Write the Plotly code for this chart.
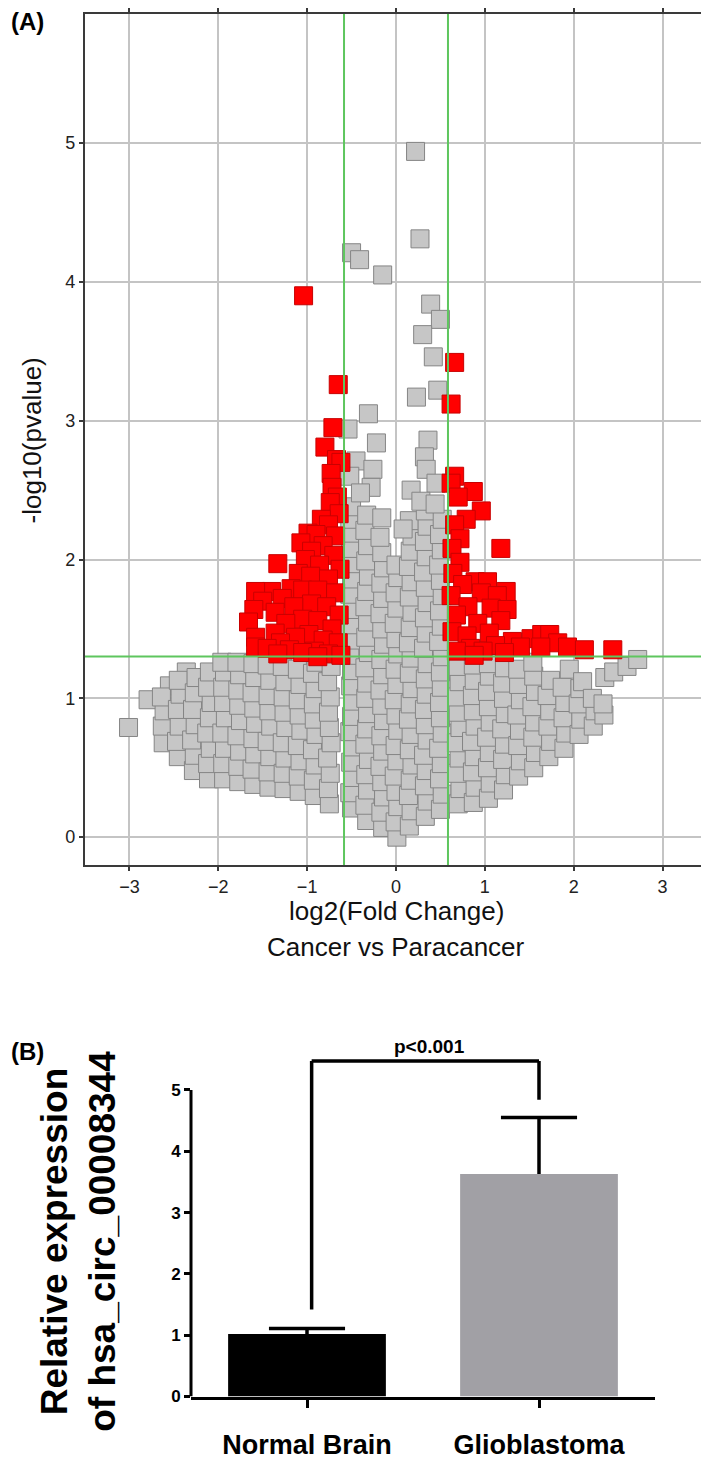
import plotly.graph_objects as go

W, H = 709, 1463
FONT = "Liberation Sans, Arial, sans-serif"

# ---------------- Panel A: volcano plot data (log2FC, -log10 p) ----------------
grey_left = [
    (-3.01, 0.79), (-2.79, 0.99), (-2.36, 1.19), (-2.55, 1.09),
    (-2.62, 0.68), (-2.63, 0.80), (-2.61, 0.91), (-2.64, 1.01),
    (-2.45, 0.58), (-2.47, 0.69), (-2.44, 0.80), (-2.46, 0.92), (-2.43, 1.03), (-2.45, 1.13),
    (-2.28, 0.48), (-2.27, 0.59), (-2.30, 0.70), (-2.26, 0.81), (-2.29, 0.92), (-2.27, 1.04), (-2.25, 1.15),
    (-2.11, 0.42), (-2.12, 0.53), (-2.09, 0.64), (-2.13, 0.75), (-2.10, 0.86), (-2.08, 0.97), (-2.12, 1.08), (-2.10, 1.19),
    (-1.94, 0.42), (-1.95, 0.53), (-1.93, 0.64), (-1.96, 0.75), (-1.92, 0.86), (-1.94, 0.97), (-1.95, 1.08), (-1.93, 1.19), (-1.96, 1.26),
    (-1.77, 0.40), (-1.78, 0.51), (-1.76, 0.62), (-1.79, 0.73), (-1.75, 0.84), (-1.77, 0.95), (-1.78, 1.06), (-1.76, 1.17), (-1.79, 1.26),
    (-1.60, 0.38), (-1.62, 0.49), (-1.59, 0.60), (-1.61, 0.71), (-1.58, 0.82), (-1.60, 0.93), (-1.62, 1.04), (-1.59, 1.15), (-1.61, 1.25),
    (-1.43, 0.36), (-1.44, 0.47), (-1.42, 0.58), (-1.45, 0.69), (-1.41, 0.80), (-1.43, 0.91), (-1.44, 1.02), (-1.42, 1.13), (-1.45, 1.24),
    (-1.26, 0.35), (-1.27, 0.46), (-1.25, 0.57), (-1.28, 0.68), (-1.24, 0.79), (-1.26, 0.90), (-1.27, 1.01), (-1.25, 1.12), (-1.28, 1.23),
    (-1.09, 0.33), (-1.10, 0.44), (-1.08, 0.55), (-1.11, 0.66), (-1.07, 0.77), (-1.09, 0.88), (-1.10, 0.99), (-1.08, 1.10), (-1.11, 1.21),
    (-0.92, 0.30), (-0.93, 0.41), (-0.91, 0.52), (-0.94, 0.63), (-0.90, 0.74), (-0.92, 0.85), (-0.93, 0.96), (-0.91, 1.07), (-0.94, 1.18), (-0.90, 1.26),
    (-0.75, 0.24), (-0.76, 0.35), (-0.74, 0.46), (-0.77, 0.57), (-0.73, 0.68), (-0.75, 0.79), (-0.76, 0.90), (-0.74, 1.01), (-0.77, 1.12), (-0.73, 1.23),
]

grey_mid = [
    (-0.50, 0.21), (-0.52, 0.32), (-0.49, 0.43), (-0.51, 0.54), (-0.48, 0.65), (-0.52, 0.76), (-0.50, 0.87),
    (-0.49, 0.98), (-0.51, 1.09), (-0.50, 1.20), (-0.52, 1.31), (-0.48, 1.42), (-0.51, 1.53), (-0.49, 1.64),
    (-0.52, 1.75), (-0.50, 1.86), (-0.48, 1.97), (-0.51, 2.08), (-0.49, 2.19), (-0.52, 2.29), (-0.50, 2.38),
    (-0.33, 0.12), (-0.35, 0.23), (-0.32, 0.34), (-0.34, 0.45), (-0.31, 0.56), (-0.35, 0.67), (-0.33, 0.78),
    (-0.32, 0.89), (-0.34, 1.00), (-0.33, 1.11), (-0.35, 1.22), (-0.31, 1.33), (-0.34, 1.44), (-0.32, 1.55),
    (-0.35, 1.66), (-0.33, 1.77), (-0.31, 1.88), (-0.34, 1.99), (-0.32, 2.10), (-0.35, 2.21), (-0.33, 2.32),
    (-0.15, 0.07), (-0.17, 0.18), (-0.14, 0.29), (-0.16, 0.40), (-0.18, 0.51), (-0.15, 0.62), (-0.17, 0.73),
    (-0.14, 0.84), (-0.16, 0.95), (-0.18, 1.06), (-0.15, 1.17), (-0.17, 1.28), (-0.14, 1.39), (-0.16, 1.50),
    (-0.18, 1.61), (-0.15, 1.72), (-0.17, 1.83), (-0.14, 1.94), (-0.16, 2.05), (-0.18, 2.16),
    (0.01, 0.00), (-0.01, 0.11), (0.02, 0.22), (0.00, 0.33), (-0.02, 0.44), (0.01, 0.55), (-0.01, 0.66),
    (0.02, 0.77), (0.00, 0.88), (-0.02, 0.99), (0.01, 1.10), (-0.01, 1.21), (0.02, 1.32), (0.00, 1.43),
    (-0.02, 1.54), (0.01, 1.65), (-0.01, 1.76), (0.02, 1.87), (0.00, 1.96),
    (0.15, 0.08), (0.17, 0.19), (0.14, 0.30), (0.16, 0.41), (0.18, 0.52), (0.15, 0.63), (0.17, 0.74),
    (0.14, 0.85), (0.16, 0.96), (0.18, 1.07), (0.15, 1.18), (0.17, 1.29), (0.14, 1.40), (0.16, 1.51),
    (0.18, 1.62), (0.15, 1.73), (0.17, 1.84), (0.14, 1.95), (0.16, 2.06), (0.18, 2.17), (0.15, 2.28),
    (0.33, 0.15), (0.35, 0.26), (0.32, 0.37), (0.34, 0.48), (0.31, 0.59), (0.35, 0.70), (0.33, 0.81),
    (0.32, 0.92), (0.34, 1.03), (0.33, 1.14), (0.35, 1.25), (0.31, 1.36), (0.34, 1.47), (0.32, 1.58),
    (0.35, 1.69), (0.33, 1.80), (0.31, 1.91), (0.34, 2.02), (0.32, 2.13), (0.35, 2.24), (0.33, 2.35),
    (0.50, 0.20), (0.52, 0.31), (0.49, 0.42), (0.51, 0.53), (0.48, 0.64), (0.52, 0.75), (0.50, 0.86),
    (0.49, 0.97), (0.51, 1.08), (0.50, 1.19), (0.52, 1.30), (0.48, 1.41), (0.51, 1.52), (0.49, 1.63),
    (0.52, 1.74), (0.50, 1.85), (0.48, 1.96), (0.51, 2.07), (0.49, 2.18), (0.52, 2.29),
]

grey_top = [
    (0.22, 4.94), (0.27, 4.31), (-0.50, 4.21), (-0.41, 4.16), (-0.15, 4.05), (0.39, 3.84), (0.50, 3.73),
    (0.30, 3.62), (0.42, 3.46), (0.47, 3.22), (0.23, 3.17), (-0.31, 3.05), (-0.54, 2.94), (-0.22, 2.84),
    (0.36, 2.86), (0.32, 2.74), (-0.45, 2.71), (0.34, 2.65), (-0.26, 2.65), (-0.52, 2.60), (0.17, 2.50),
    (-0.28, 2.52), (0.45, 2.55), (-0.40, 2.48), (0.28, 2.42), (-0.16, 2.30), (0.08, 2.22), (0.44, 2.40),
]

grey_right = [
    (0.70, 0.24), (0.72, 0.35), (0.69, 0.46), (0.71, 0.57), (0.68, 0.68), (0.72, 0.79), (0.70, 0.90), (0.69, 1.01), (0.71, 1.12), (0.70, 1.23),
    (0.87, 0.25), (0.89, 0.36), (0.86, 0.47), (0.88, 0.58), (0.85, 0.69), (0.89, 0.80), (0.87, 0.91), (0.86, 1.02), (0.88, 1.13), (0.87, 1.24),
    (1.04, 0.28), (1.06, 0.39), (1.03, 0.50), (1.05, 0.61), (1.02, 0.72), (1.06, 0.83), (1.04, 0.94), (1.03, 1.05), (1.05, 1.16), (1.04, 1.25),
    (1.21, 0.34), (1.23, 0.45), (1.20, 0.56), (1.22, 0.67), (1.19, 0.78), (1.23, 0.89), (1.21, 1.00), (1.20, 1.11), (1.22, 1.22),
    (1.38, 0.44), (1.40, 0.55), (1.37, 0.66), (1.39, 0.77), (1.36, 0.88), (1.40, 0.99), (1.38, 1.10), (1.37, 1.21),
    (1.55, 0.50), (1.57, 0.61), (1.54, 0.72), (1.56, 0.83), (1.53, 0.94), (1.57, 1.05), (1.55, 1.16), (1.54, 1.26),
    (1.72, 0.58), (1.74, 0.69), (1.71, 0.80), (1.73, 0.91), (1.70, 1.02), (1.74, 1.13),
    (1.89, 0.64), (1.91, 0.75), (1.88, 0.86), (1.90, 0.97), (1.87, 1.08), (1.95, 1.21),
    (2.06, 0.74), (2.08, 0.85), (2.05, 0.96), (2.07, 1.07), (2.10, 1.12),
    (2.22, 0.80), (2.24, 0.91), (2.21, 1.00), (2.34, 0.88), (2.33, 0.96),
    (2.35, 1.15), (2.45, 1.19), (2.60, 1.23), (2.72, 1.28),
]

red_down = [
    (-1.04, 3.90), (-0.65, 3.26), (-0.71, 2.95), (-0.80, 2.81), (-0.67, 2.72), (-0.62, 2.70), (-0.73, 2.62),
    (-0.72, 2.52), (-0.66, 2.45), (-0.74, 2.41), (-0.64, 2.33), (-0.84, 2.29), (-0.76, 2.25), (-0.99, 2.19),
    (-0.90, 2.18), (-0.68, 2.17), (-1.07, 2.12), (-0.82, 2.10), (-0.95, 2.06), (-0.70, 2.03), (-1.02, 2.00),
    (-1.33, 1.97), (-0.86, 1.96), (-0.63, 1.93), (-1.10, 1.90), (-0.96, 1.88), (-0.76, 1.86), (-1.18, 1.79),
    (-1.40, 1.77), (-1.58, 1.77), (-1.05, 1.78), (-0.88, 1.78), (-0.68, 1.76), (-1.28, 1.72), (-1.50, 1.70),
    (-0.95, 1.68), (-0.78, 1.66), (-1.15, 1.66), (-1.60, 1.64), (-1.36, 1.62), (-0.64, 1.60), (-1.66, 1.55),
    (-1.05, 1.57), (-0.88, 1.56), (-1.24, 1.54), (-0.72, 1.50), (-1.36, 1.47), (-1.58, 1.44), (-0.98, 1.46),
    (-1.13, 1.44), (-0.82, 1.42), (-1.30, 1.40), (-0.65, 1.40), (-1.58, 1.37), (-1.45, 1.36), (-1.20, 1.35),
    (-0.92, 1.34), (-1.33, 1.32), (-1.05, 1.33), (-0.76, 1.32), (-0.88, 1.30), (-0.62, 1.31),
]

red_up = [
    (0.66, 3.42), (0.62, 3.12), (0.66, 2.60), (0.62, 2.55), (0.87, 2.49), (0.70, 2.45), (0.96, 2.35),
    (0.79, 2.29), (0.66, 2.25), (0.72, 2.15), (0.63, 2.08), (1.18, 2.08), (0.72, 1.98), (0.64, 1.90),
    (0.89, 1.84), (1.03, 1.84), (0.75, 1.82), (1.24, 1.77), (0.62, 1.74), (0.96, 1.76), (1.14, 1.74),
    (0.81, 1.66), (1.07, 1.65), (1.25, 1.64), (0.68, 1.60), (0.92, 1.54), (1.18, 1.56), (0.63, 1.48),
    (1.05, 1.47), (0.80, 1.45), (1.31, 1.41), (1.52, 1.43), (1.64, 1.46), (1.73, 1.46), (1.82, 1.40),
    (0.84, 1.36), (1.12, 1.38), (0.98, 1.34), (0.68, 1.34), (1.40, 1.37), (1.63, 1.37), (1.93, 1.37),
    (1.22, 1.33), (0.88, 1.31), (2.12, 1.35), (2.44, 1.35),
]

fc_cutoffs = [-0.585, 0.585]
p_cutoff = 1.301
x_ticks_a = [-3, -2, -1, 0, 1, 2, 3]
y_ticks_a = [0, 1, 2, 3, 4, 5]

# ---------------- Panel B: bar chart data ----------------
categories = ["Normal Brain", "Glioblastoma"]
means = [1.02, 3.63]
sem_up = [0.09, 0.92]
bar_colors = ["#000000", "#a1a0a5"]
y_ticks_b = [0, 1, 2, 3, 4, 5]
bracket_x = [0.02, 1.0]
bracket_y = [1.42, 5.47, 4.84]   # left foot, top, right foot
p_text = "p<0.001"


def px_x(p):
    return p / W


def px_y(p):
    return 1 - p / H


def unpack(pts):
    return [p[0] for p in pts], [p[1] for p in pts]


grey_pts = grey_left + grey_mid + grey_top + grey_right
red_pts = red_down + red_up
gx, gy = unpack(grey_pts)
rx, ry = unpack(red_pts)

fig = go.Figure()
fig.add_trace(go.Scatter(
    x=gx, y=gy, mode="markers", xaxis="x", yaxis="y",
    marker=dict(symbol="square", size=18, color="#c6c6c6",
                line=dict(color="#858585", width=1)),
    hoverinfo="skip"))
fig.add_trace(go.Scatter(
    x=rx, y=ry, mode="markers", xaxis="x", yaxis="y",
    marker=dict(symbol="square", size=18, color="#ff0000",
                line=dict(color="#c80000", width=1)),
    hoverinfo="skip"))

fig.add_trace(go.Bar(
    x=categories, y=means, xaxis="x2", yaxis="y2", width=0.68,
    marker=dict(color=bar_colors, line=dict(width=0)),
    hoverinfo="skip"))

# upper-only error bars: stem from the bar top to mean+SEM
tops = [m + s for m, s in zip(means, sem_up)]
fig.add_trace(go.Scatter(
    x=categories, y=tops, xaxis="x2", yaxis="y2", mode="markers",
    marker=dict(size=1, color="rgba(0,0,0,0)"),
    error_y=dict(type="data", symmetric=False, array=[0, 0], arrayminus=sem_up,
                 color="#000000", thickness=3.5, width=0),
    hoverinfo="skip"))

frame = "#3a3a3a"
grid = "#c4c4c4"
cap_half = 0.164   # half-width of the error-bar caps, in category units

shapes = []
for v in fc_cutoffs:
    shapes.append(dict(type="line", xref="x", yref="y", x0=v, x1=v, y0=-0.2, y1=5.93,
                       line=dict(color="#5ec65e", width=2)))
shapes.append(dict(type="line", xref="x", yref="y", x0=-3.5, x1=3.5, y0=p_cutoff, y1=p_cutoff,
                   line=dict(color="#5ec65e", width=2)))
# caps on top of the error bars
for i, t in enumerate(tops):
    shapes.append(dict(type="line", xref="x2", yref="y2", x0=i - cap_half, x1=i + cap_half,
                       y0=t, y1=t, line=dict(color="#000000", width=3.5)))
# panel B y-axis line (only up to 5)
shapes.append(dict(type="line", xref="paper", yref="y2", x0=px_x(183), x1=px_x(183),
                   y0=0, y1=y_ticks_b[-1], line=dict(color="#000000", width=3)))
# significance bracket
shapes.append(dict(type="line", xref="x2", yref="y2", x0=bracket_x[0], x1=bracket_x[0],
                   y0=bracket_y[0], y1=bracket_y[1], line=dict(color="#000000", width=3.5)))
shapes.append(dict(type="line", xref="x2", yref="y2", x0=bracket_x[0], x1=bracket_x[1],
                   y0=bracket_y[1], y1=bracket_y[1], line=dict(color="#000000", width=3.5)))
shapes.append(dict(type="line", xref="x2", yref="y2", x0=bracket_x[1], x1=bracket_x[1],
                   y0=bracket_y[2], y1=bracket_y[1], line=dict(color="#000000", width=3.5)))

annotations = [
    dict(text="(A)", x=px_x(1), y=px_y(12), xref="paper", yref="paper", xanchor="left",
         yanchor="middle", showarrow=False, font=dict(family=FONT, size=24, color="#000", weight="bold")),
    dict(text="(B)", x=px_x(1), y=px_y(1050), xref="paper", yref="paper", xanchor="left",
         yanchor="middle", showarrow=False, font=dict(family=FONT, size=24, color="#000", weight="bold")),
    dict(text="-log10(pvalue)", x=px_x(24), y=px_y(434), xref="paper", yref="paper",
         xanchor="center", yanchor="middle", textangle=-90, showarrow=False,
         font=dict(family=FONT, size=26, color="#111")),
    dict(text="log2(Fold Change)", x=px_x(388), y=px_y(908), xref="paper", yref="paper",
         xanchor="center", yanchor="middle", showarrow=False, font=dict(family=FONT, size=26, color="#111")),
    dict(text="Cancer vs Paracancer", x=px_x(388), y=px_y(945), xref="paper", yref="paper",
         xanchor="center", yanchor="middle", showarrow=False, font=dict(family=FONT, size=26, color="#111")),
    dict(text="Relative expression<br>of hsa_circ_00008344", x=px_x(71), y=px_y(1242),
         xref="paper", yref="paper", xanchor="center", yanchor="middle", textangle=-90,
         showarrow=False, font=dict(family=FONT, size=37, color="#000", weight="bold")),
    dict(text=p_text, x=0.53, y=5.71, xref="x2", yref="y2", xanchor="center", yanchor="middle",
         showarrow=False, font=dict(family=FONT, size=19, color="#000", weight="bold")),
]

fig.update_layout(
    width=W, height=H, margin=dict(l=0, r=0, t=0, b=0),
    paper_bgcolor="white", plot_bgcolor="white", showlegend=False,
    font=dict(family=FONT, color="#111"),
    xaxis=dict(domain=[px_x(77), px_x(699)], anchor="y", range=[-3.5, 3.5],
               tickvals=x_ticks_a, showgrid=True, gridcolor=grid, gridwidth=1.6,
               zeroline=False, showline=True, linecolor=frame, linewidth=2.2, mirror="ticks",
               ticks="outside", ticklen=4, tickcolor=frame, tickwidth=1.5,
               tickfont=dict(family=FONT, size=18, color="#222")),
    yaxis=dict(domain=[px_y(862), px_y(4)], anchor="x", range=[-0.2, 5.93],
               tickvals=y_ticks_a, showgrid=True, gridcolor=grid, gridwidth=1.6,
               zeroline=False, showline=True, linecolor=frame, linewidth=2.2, mirror="ticks",
               ticks="outside", ticklen=4, tickcolor=frame, tickwidth=1.5,
               tickfont=dict(family=FONT, size=18, color="#222")),
    xaxis2=dict(domain=[px_x(183), px_x(647)], anchor="y2", type="category", range=[-0.5, 1.5],
                showgrid=False, zeroline=False, showline=True, linecolor="#000", linewidth=3,
                ticks="outside", ticklen=8, tickwidth=3, tickcolor="#000", ticklabelstandoff=14,
                tickfont=dict(family=FONT, size=27, color="#000", weight="bold")),
    yaxis2=dict(domain=[px_y(1398), px_y(1027)], anchor="x2", range=[0, 6],
                tickvals=y_ticks_b, showgrid=False, zeroline=False, showline=False,
                ticks="outside", ticklen=6, tickwidth=3, tickcolor="#000",
                tickfont=dict(family=FONT, size=17, color="#000", weight="bold")),
    shapes=shapes, annotations=annotations,
)

fig.write_html("out.html")
